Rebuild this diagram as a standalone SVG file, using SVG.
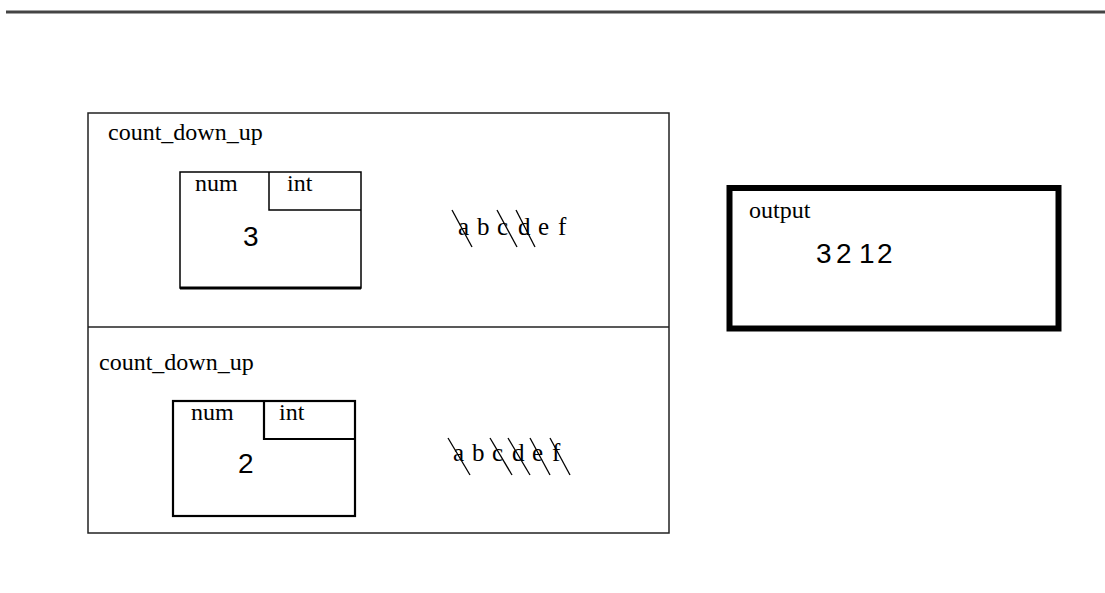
<svg xmlns="http://www.w3.org/2000/svg" width="1105" height="593" viewBox="0 0 1105 593">
<style>
.ser{font-family:"Liberation Serif","Times New Roman",serif;font-size:24px;fill:#000}
.let{font-family:"Liberation Serif","Times New Roman",serif;font-size:25px;fill:#000}
.san{font-family:"Liberation Sans",Arial,sans-serif;font-size:28px;fill:#000}
.frame{fill:none;stroke:#222;stroke-width:1.5}
.box{fill:none;stroke:#000;stroke-width:1.5}
.box2{fill:none;stroke:#000;stroke-width:2.2}
.strike{stroke:#000;stroke-width:1.3}
</style>
<rect width="1105" height="593" fill="#fff"/>
<line x1="6" y1="12" x2="1105" y2="12" stroke="#444" stroke-width="3"/>
<g id="frames">
<rect class="frame" x="88" y="113" width="581" height="420"/>
<line class="frame" x1="88" y1="327" x2="669" y2="327"/>
</g>
<g id="frame1">
<text class="ser" x="108" y="140">count_down_up</text>
<g id="var1">
<rect class="box" x="180" y="172" width="181" height="116"/>
<line x1="180" y1="288" x2="361" y2="288" stroke="#000" stroke-width="3"/>
<polyline class="box" points="269,172 269,210 361,210"/>
<text class="ser" x="195" y="191">num</text>
<text class="ser" x="287" y="191">int</text>
<text class="san" x="243" y="246">3</text>
</g>
<g id="letters1">
<text class="let" y="235"><tspan x="458">a</tspan><tspan x="477">b</tspan><tspan x="497">c</tspan><tspan x="518">d</tspan><tspan x="538">e</tspan><tspan x="558">f</tspan></text>
<line class="strike" x1="452" y1="210" x2="472" y2="247"/>
<line class="strike" x1="497" y1="210" x2="517" y2="247"/>
<line class="strike" x1="516" y1="210" x2="535" y2="247"/>
</g>
</g>
<g id="frame2">
<text class="ser" x="99" y="370">count_down_up</text>
<g id="var2">
<rect class="box2" x="173" y="401" width="182" height="115"/>
<polyline class="box2" points="264,401 264,439 355,439"/>
<text class="ser" x="191" y="420">num</text>
<text class="ser" x="279" y="420">int</text>
<text class="san" x="238" y="473">2</text>
</g>
<g id="letters2">
<text class="let" y="461"><tspan x="453">a</tspan><tspan x="472">b</tspan><tspan x="492">c</tspan><tspan x="512">d</tspan><tspan x="532">e</tspan><tspan x="552">f</tspan></text>
<line class="strike" x1="448" y1="438" x2="470" y2="475"/>
<line class="strike" x1="490" y1="438" x2="512" y2="475"/>
<line class="strike" x1="508" y1="438" x2="530" y2="475"/>
<line class="strike" x1="530" y1="438" x2="550" y2="475"/>
<line class="strike" x1="550" y1="438" x2="570" y2="475"/>
</g>
</g>
<g id="output">
<rect x="729.5" y="188" width="329" height="140.5" fill="none" stroke="#000" stroke-width="6"/>
<text class="ser" x="749" y="218">output</text>
<text class="san" y="263"><tspan x="816">3</tspan><tspan x="836">2</tspan><tspan x="859">1</tspan><tspan x="877">2</tspan></text>
</g>
</svg>
